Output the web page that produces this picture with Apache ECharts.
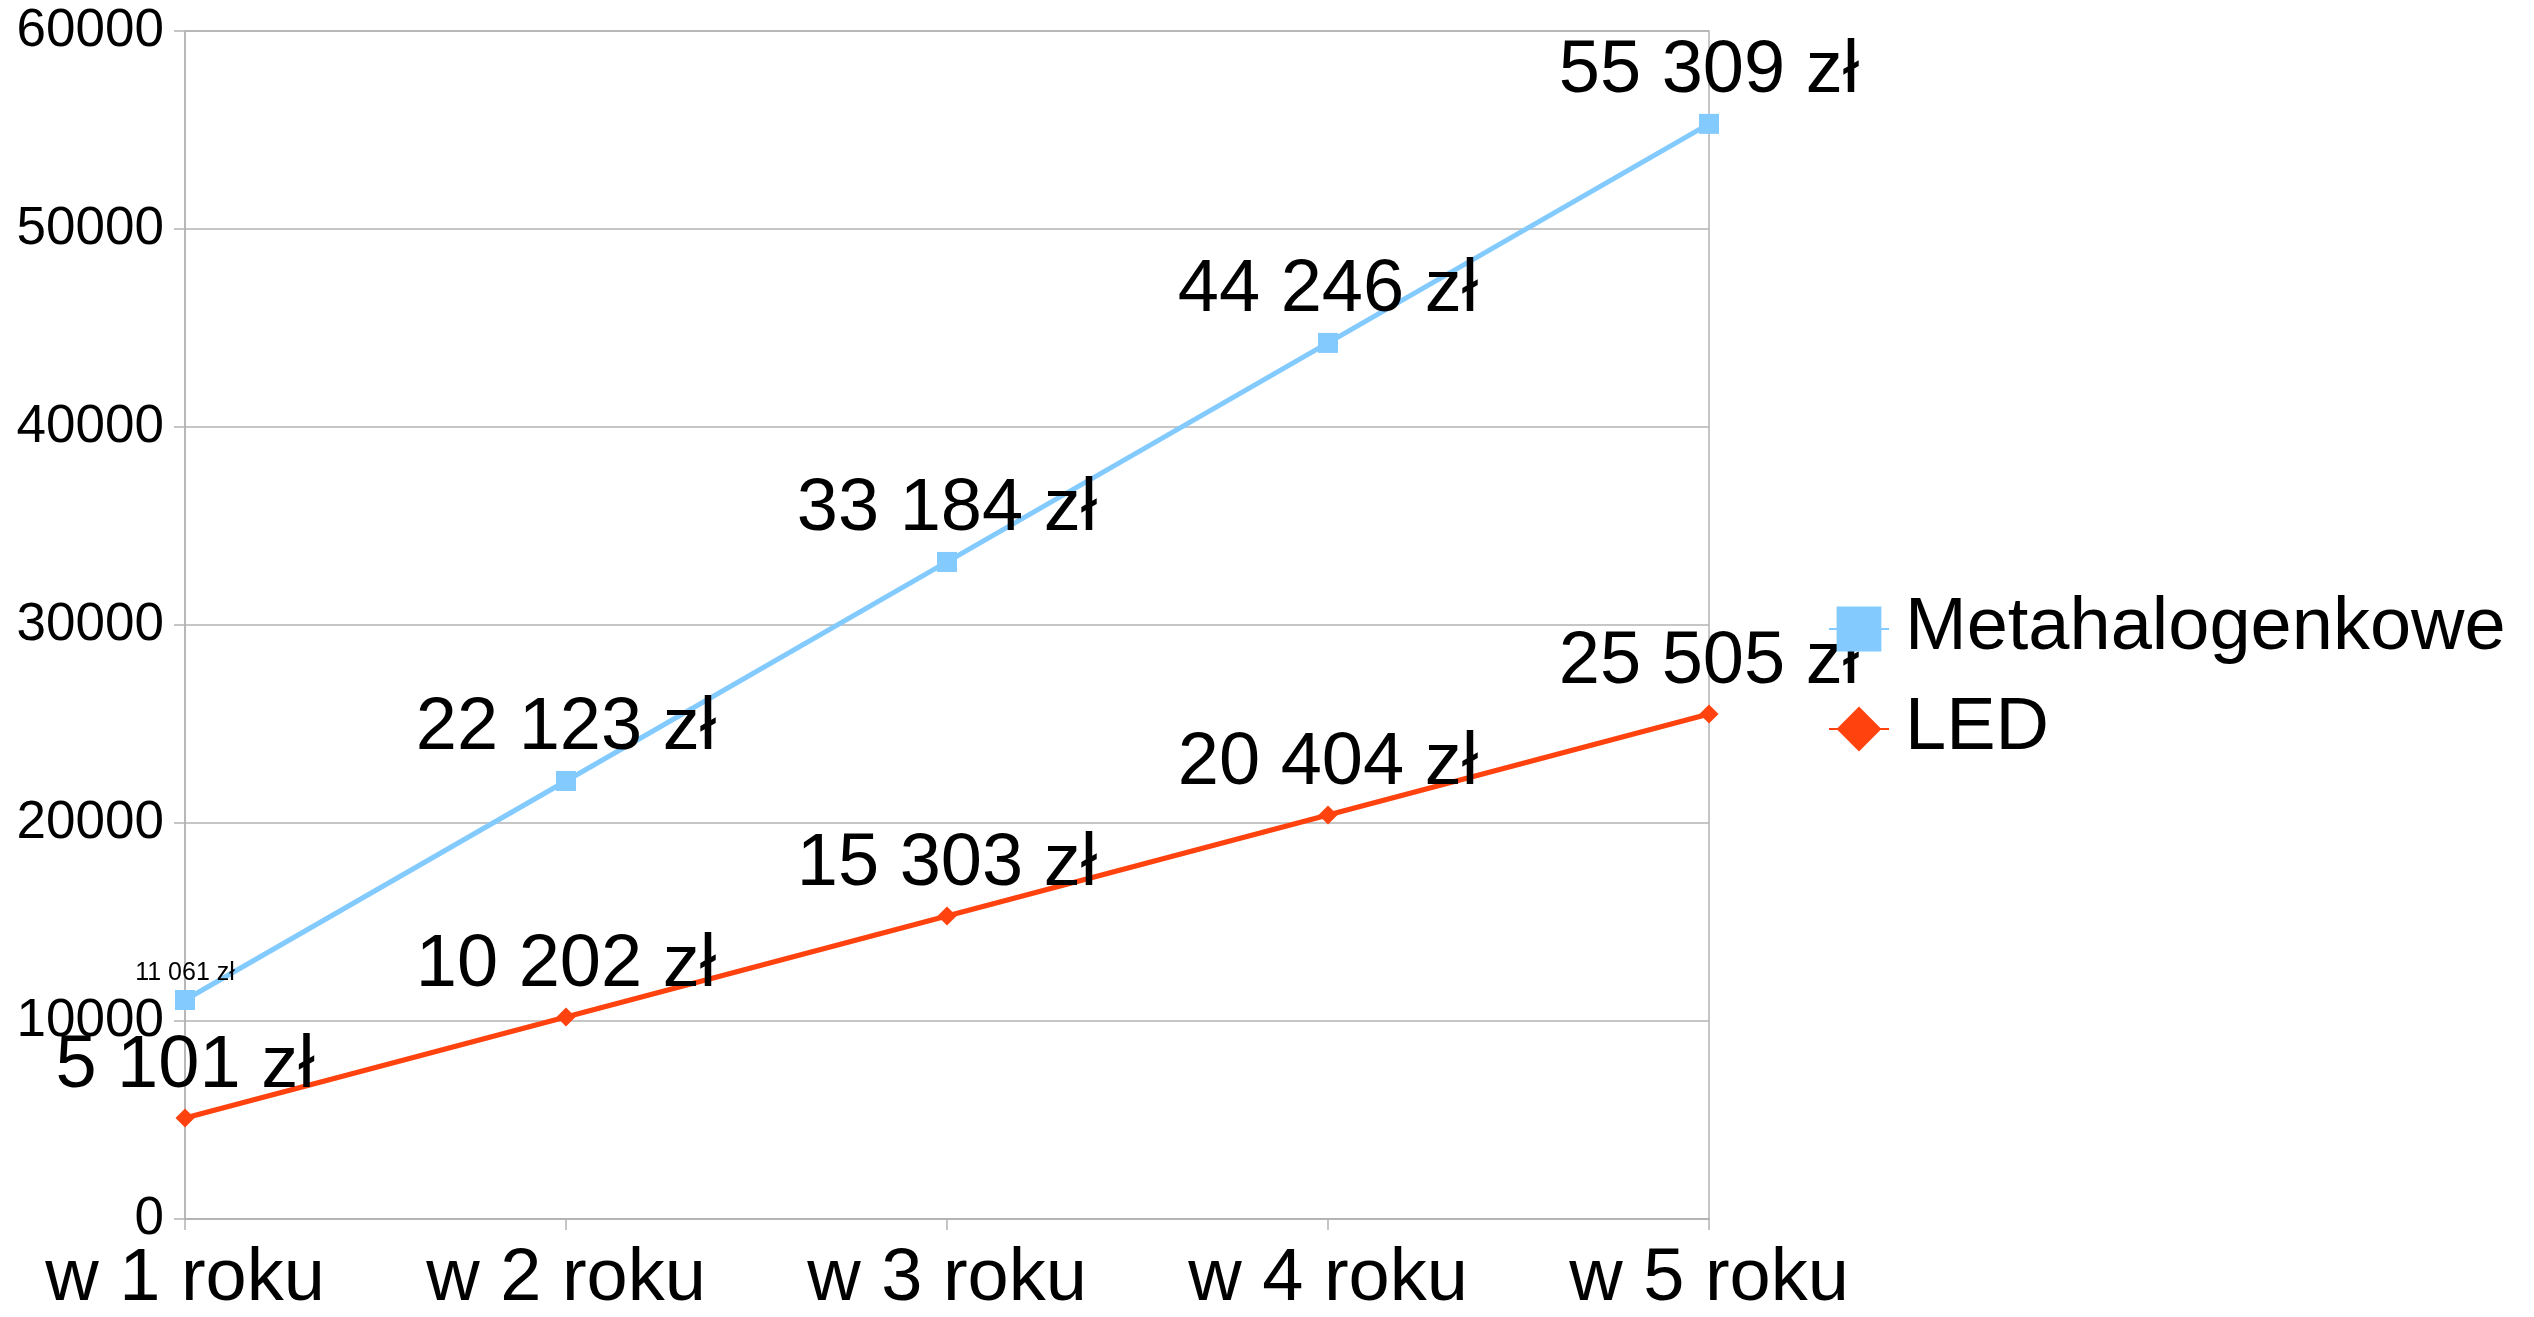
<!DOCTYPE html>
<html>
<head>
<meta charset="utf-8">
<script src="https://cdn.jsdelivr.net/npm/echarts@6/dist/echarts.min.js"></script>
<style>
  html, body { margin: 0; padding: 0; background: #ffffff; }
  #chart { width: 2534px; height: 1317px; }
</style>
</head>
<body>
<div id="chart"></div>
<script>
// dane z wykresu
var categories = ['w 1 roku', 'w 2 roku', 'w 3 roku', 'w 4 roku', 'w 5 roku']
var metaValues = [11061, 22123, 33184, 44246, 55309]
var ledValues = [5101, 10202, 15303, 20404, 25505]
var seriesNames = ['Metahalogenkowe', 'LED']
var yTicks = [0, 10000, 20000, 30000, 40000, 50000, 60000]

var gray = '#b3b3b3'
var font = '"Liberation Sans", Arial, sans-serif'

// 11061 -> "11 061 zł"
function zl (v) {
  return String(v).replace(/\B(?=(\d{3})+(?!\d))/g, ' ') + ' zł'
}

var chart = echarts.init(document.getElementById('chart'))
var option = {
  animation: false,
  textStyle: { fontFamily: font, color: '#000' },
  color: ['#83caff', '#ff420e'],
  grid: {
    left: 185,
    right: 825,
    top: 31,
    bottom: 94,
    show: true,
    borderColor: gray,
    borderWidth: 1.5
  },
  legend: {
    orient: 'vertical',
    left: 1823,
    top: 587,
    itemWidth: 60,
    itemHeight: 56,
    itemGap: 26,
    textStyle: {
      fontSize: 74,
      lineHeight: 74,
      fontFamily: font,
      color: '#000',
      padding: [0, 0, 0, 11]
    },
    data: seriesNames
  },
  xAxis: {
    type: 'category',
    data: categories,
    boundaryGap: false,
    axisLine: { lineStyle: { color: gray, width: 1.5 } },
    axisTick: { show: true, length: 11, lineStyle: { color: gray, width: 1.5 } },
    axisLabel: { fontSize: 74, margin: 24, color: '#000', fontFamily: font },
    splitLine: { show: false }
  },
  yAxis: {
    type: 'value',
    min: yTicks[0],
    max: yTicks[yTicks.length - 1],
    interval: yTicks[1] - yTicks[0],
    axisLine: { show: true, lineStyle: { color: gray, width: 1.5 } },
    axisTick: { show: true, length: 11, lineStyle: { color: gray, width: 1.5 } },
    axisLabel: {
      fontSize: 53,
      margin: 21,
      color: '#000',
      fontFamily: font,
      formatter: function (v) { return String(v) }
    },
    splitLine: { lineStyle: { color: gray, width: 1.5 } }
  },
  series: [
    {
      name: seriesNames[0],
      type: 'line',
      symbol: 'rect',
      symbolSize: 20,
      lineStyle: { width: 5 },
      label: {
        show: true,
        position: 'top',
        distance: 5,
        fontSize: 74,
        color: '#000',
        fontFamily: font,
        formatter: function (p) { return zl(p.value) }
      },
      // pierwsza etykieta jest malutka
      data: metaValues.map(function (v, i) {
        return i === 0 ? { value: v, label: { fontSize: 25, distance: 4 } } : v
      }),
      z: 3
    },
    {
      name: seriesNames[1],
      type: 'line',
      symbol: 'diamond',
      symbolSize: 19,
      lineStyle: { width: 5 },
      label: {
        show: true,
        position: 'top',
        distance: 5,
        fontSize: 74,
        color: '#000',
        fontFamily: font,
        formatter: function (p) { return zl(p.value) }
      },
      data: ledValues,
      z: 3
    }
  ]
}
chart.setOption(option)
</script>
</body>
</html>
